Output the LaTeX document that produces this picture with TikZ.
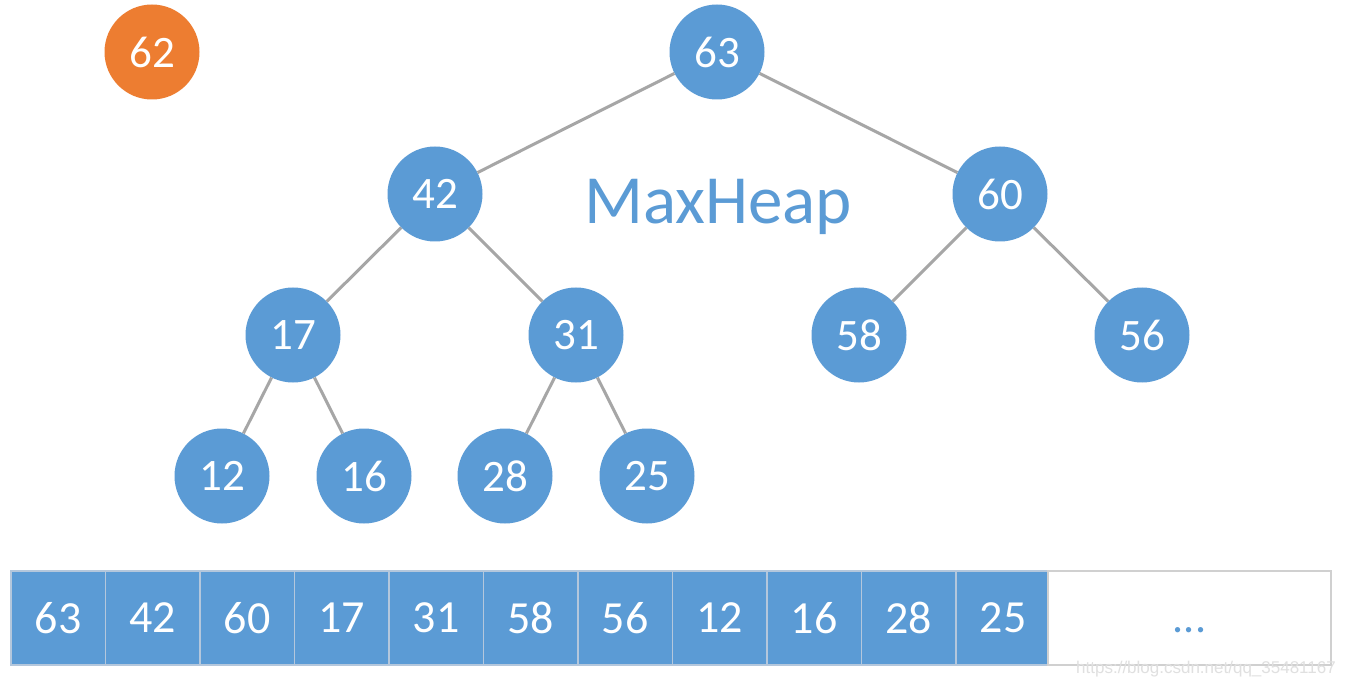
\documentclass[tikz,border=0pt]{standalone}
\usepackage{fontspec}
\setmainfont{Carlito}
\newfontfamily\wmfont{Liberation Sans}
\definecolor{heapblue}{HTML}{5B9BD5}
\definecolor{heaporange}{HTML}{ED7D31}
\definecolor{edgegray}{HTML}{A6A6A6}
\definecolor{cellline}{HTML}{B4C7DC}
\definecolor{boxgray}{HTML}{D0D0D0}
\tikzset{
  hnode/.style={circle, fill=heapblue, minimum size=95pt, inner sep=0pt, text=white, font=\fontsize{45}{45}\selectfont},
  onode/.style={hnode, fill=heaporange},
  hedge/.style={draw=edgegray, line width=3pt},
  cell/.style={rectangle, fill=heapblue, draw=cellline, line width=1.5pt, minimum width=94.5pt, minimum height=94pt, inner sep=0pt, text=white, font=\fontsize{46}{46}\selectfont},
  emptycell/.style={rectangle, fill=white, draw=boxgray, line width=1.5pt, minimum width=283pt, minimum height=94pt, inner sep=0pt},
  dotstext/.style={text=heapblue, font=\fontsize{44}{44}\selectfont, inner sep=0pt},
}
\begin{document}
\begin{tikzpicture}[x=1pt, y=-1pt]
\useasboundingbox[fill=white] (0,0) rectangle (1345,687);
% tree nodes
\node[onode] (n62) at (152,52) {62};
\node[hnode] (n63) at (717,52) {63};
\node[hnode] (n42) at (435,194) {42};
\node[hnode] (n60) at (1000,194) {60};
\node[hnode] (n17) at (293,335) {17};
\node[hnode] (n31) at (576,335) {31};
\node[hnode] (n58) at (859,335) {58};
\node[hnode] (n56) at (1142,335) {56};
\node[hnode] (n12) at (222,476) {12};
\node[hnode] (n16) at (364,476) {16};
\node[hnode] (n28) at (505,476) {28};
\node[hnode] (n25) at (647,476) {25};
% edges
\draw[hedge] (n63) -- (n42);
\draw[hedge] (n63) -- (n60);
\draw[hedge] (n42) -- (n17);
\draw[hedge] (n42) -- (n31);
\draw[hedge] (n60) -- (n58);
\draw[hedge] (n60) -- (n56);
\draw[hedge] (n17) -- (n12);
\draw[hedge] (n17) -- (n16);
\draw[hedge] (n31) -- (n28);
\draw[hedge] (n31) -- (n25);
% label
\node[text=heapblue, font=\fontsize{69}{69}\selectfont] (title) at (718,207) {MaxHeap};
% array
\node[cell] (c0) at (58.25,618) {63};
\node[cell] (c1) at (152.75,618) {42};
\node[cell] (c2) at (247.25,618) {60};
\node[cell] (c3) at (341.75,618) {17};
\node[cell] (c4) at (436.25,618) {31};
\node[cell] (c5) at (530.75,618) {58};
\node[cell] (c6) at (625.25,618) {56};
\node[cell] (c7) at (719.75,618) {12};
\node[cell] (c8) at (814.25,618) {16};
\node[cell] (c9) at (908.75,618) {28};
\node[cell] (c10) at (1003.25,618) {25};
\node[emptycell] (rest) at (1189.5,618) {};
\node[dotstext, anchor=base] (dots) at (1189.5,632) {...};
% watermark
\node[anchor=east, text=black!12, font=\wmfont\fontsize{17}{17}\selectfont, inner sep=0pt] (wm) at (1336,669) {https://blog.csdn.net/qq\_35481167};
\end{tikzpicture}
\end{document}
